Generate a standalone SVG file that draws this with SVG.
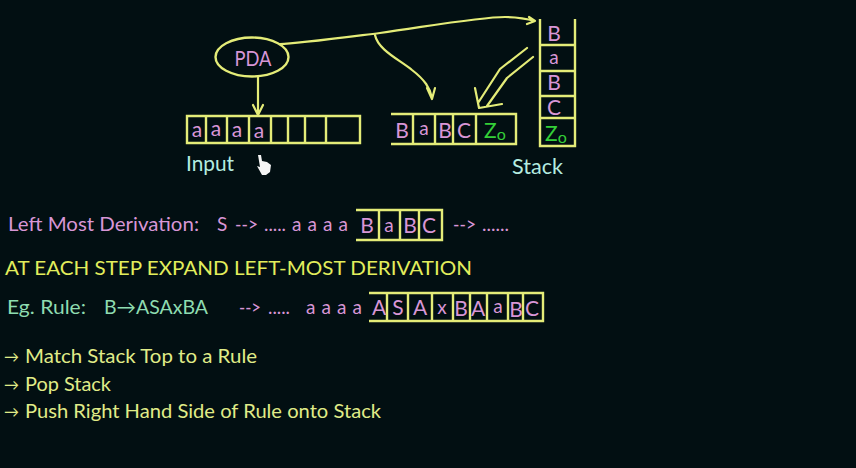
<svg xmlns="http://www.w3.org/2000/svg" width="856" height="468" viewBox="0 0 856 468">
<style>
text{font-family:"Lato","Open Sans","Liberation Sans",sans-serif;font-size:19px}
.p{fill:#d896d6}.y{fill:#e2ee5c}.l{fill:#e0ec88}.g{fill:#8edcb0}.c{fill:#b4ece0}.z{fill:#34cf38}
.m{text-anchor:middle}
.k{font-size:21px}
.s{font-size:19px}
.o{font-size:16px}
.t{font-size:15px}
.b{fill:none;stroke:#e4ec78;stroke-width:2.4}
.a{fill:none;stroke:#e4ec78;stroke-width:2.2;stroke-linecap:round;stroke-linejoin:round}
</style>
<rect width="856" height="468" fill="#020f12"/>
<g id="connectors">
<path class="a" d="M258 77V114M253 105L258 115L263 105"/>
<path class="a" d="M280 44C295 44 340 38 380 33C430 26 480 17 505 17C520 17 528 19 535 21M529 17L535 21L527 24"/>
<path class="a" d="M375 35C378 50 400 60 412 70C425 80 430 88 432 98M427 88L432 99L435 88"/>
<path class="a" d="M527 48L500 69L478 103M533 57L507 78L487 106M475 88L479 108L502 104"/>
</g>
<g id="pda">
<ellipse class="b" cx="252" cy="57" rx="36.500" ry="19.500"/>
<text class="p m k" x="253" y="66" textLength="37" lengthAdjust="spacingAndGlyphs">PDA</text>
</g>
<g id="input">
<path class="b" d="M187 116H360V143H187ZM206 116V143M227 116V143M249 116V143M271 116V143M288 116V143M305 116V143M326 116V143"/>
<text class="p m k" x="197" y="137">a</text><text class="p m k" x="216" y="136">a</text><text class="p m k" x="237" y="137">a</text><text class="p m k" x="259" y="138">a</text>
<text class="c k" x="186" y="171" textLength="48" lengthAdjust="spacingAndGlyphs">Input</text>
<path d="M258 155L261 155L262 161L267 162L271 165L270 172L266 175H262L257 166L260 167Z" fill="#f4f4f4"/>
</g>
<g id="tape">
<path class="b" d="M391 114H516V144H391M413 114V144M435 114V144M453 114V144M476 114V144M516 114V144"/>
<text class="p m k" x="402" y="138">B</text><text class="p m s" x="424" y="135">a</text><text class="p m k" x="445" y="138">B</text><text class="p m k" x="464" y="138">C</text>
<text class="z k" x="484" y="138">Z<tspan class="o" dy="2">o</tspan></text>
</g>
<g id="stack">
<path class="b" d="M540 19V146H575V19M540 45H574M540 71H574M540 96H574M539 118H574"/>
<text class="p m k" x="554" y="41">B</text><text class="p m s" x="554" y="64">a</text><text class="p m k" x="554" y="90">B</text><text class="p m k" x="554" y="115">C</text>
<text class="z k" x="545" y="141">Z<tspan class="o" dy="2">o</tspan></text>
<text class="c k" x="512" y="174" textLength="51" lengthAdjust="spacingAndGlyphs">Stack</text>
</g>
<g id="lmd">
<text class="p" x="8" y="231" textLength="191" lengthAdjust="spacingAndGlyphs">Left Most Derivation:</text>
<text class="p" x="217" y="231">S</text><text class="p" x="235" y="231" textLength="23" lengthAdjust="spacingAndGlyphs">--&gt;</text><text class="p" x="264" y="231" textLength="22" lengthAdjust="spacingAndGlyphs">.....</text>
<text class="p" x="292" y="231" textLength="56" lengthAdjust="spacing">a a a a</text>
<path class="b" d="M356 210H442V240H356M379 210V240M400 210V240M419 210V240"/>
<text class="p m k" x="367" y="233">B</text><text class="p m s" x="389" y="232">a</text><text class="p m k" x="410" y="233">B</text><text class="p m k" x="429" y="233">C</text>
<text class="p" x="453" y="231" textLength="23" lengthAdjust="spacingAndGlyphs">--&gt;</text><text class="p" x="482" y="231" textLength="27" lengthAdjust="spacingAndGlyphs">......</text>
</g>
<g id="heading">
<text class="y" x="5" y="275" textLength="467" lengthAdjust="spacingAndGlyphs">AT EACH STEP EXPAND LEFT-MOST DERIVATION</text>
</g>
<g id="rule">
<text class="g" x="7" y="314" textLength="79" lengthAdjust="spacingAndGlyphs">Eg. Rule:</text>
<text class="g" x="104" y="314" textLength="104" lengthAdjust="spacingAndGlyphs">B→ASAxBA</text>
<text class="p" x="239" y="314" textLength="22" lengthAdjust="spacingAndGlyphs">--&gt;</text><text class="p" x="268" y="314" textLength="22" lengthAdjust="spacingAndGlyphs">.....</text>
<text class="p" x="306" y="314" textLength="56" lengthAdjust="spacing">a a a a</text>
<path class="b" d="M369 293H543V321H369M387 293V321M408 293V321M432 293V321M453 293V321M470 293V321M487 293V321M508 293V321M523 293V321"/>
<text class="p m k" x="379" y="315">A</text><text class="p m k" x="398" y="315">S</text><text class="p m k" x="420" y="315">A</text><text class="p m" x="442" y="314">x</text><text class="p m k" x="461" y="316">B</text><text class="p m k" x="478" y="316">A</text><text class="p m s" x="498" y="313">a</text><text class="p m k" x="516" y="317">B</text><text class="p m k" x="532" y="316">C</text>
</g>
<g id="steps">
<text class="l t" x="4" y="362">→</text><text class="l" x="25" y="363" textLength="232" lengthAdjust="spacingAndGlyphs">Match Stack Top to a Rule</text>
<text class="l t" x="4" y="390">→</text><text class="l" x="25" y="391" textLength="86" lengthAdjust="spacingAndGlyphs">Pop Stack</text>
<text class="l t" x="4" y="417">→</text><text class="l" x="25" y="418" textLength="356" lengthAdjust="spacingAndGlyphs">Push Right Hand Side of Rule onto Stack</text>
</g>
</svg>
